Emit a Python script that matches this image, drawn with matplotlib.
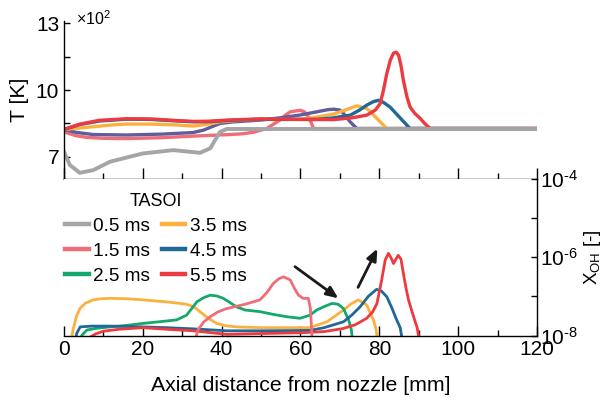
import matplotlib
matplotlib.use("Agg")
import matplotlib.pyplot as plt
import numpy as np
from matplotlib.lines import Line2D
from matplotlib.ticker import NullFormatter

plt.rcParams["font.family"] = ["Liberation Sans", "DejaVu Sans"]
plt.rcParams["mathtext.fontset"] = "custom"
plt.rcParams["mathtext.rm"] = "Liberation Sans"
plt.rcParams["mathtext.it"] = "Liberation Sans:italic"

# ---- colours ----
C_GRAY = "#a4a5a8"
C_PINK = "#f06d77"
C_GREEN = "#14a86c"
C_PURPLE = "#5f5d9b"
C_ORANGE = "#fbb03f"
C_BLUE = "#1f6898"
C_RED = "#ec3a40"

labels = ["0.5 ms", "1.5 ms", "2.5 ms", "3.5 ms", "4.5 ms", "5.5 ms"]

# ---- top panel: temperature (x 100 K) ----
gray_x = [0, 1.5, 4, 7.4, 11.7, 20, 27.7, 34.5, 37.1, 38.5, 39.6, 41.3, 120]
gray_T = [7.22, 6.63, 6.28, 6.4, 6.78, 7.15, 7.3, 7.18, 7.38, 7.8, 8.12, 8.25, 8.25]

pink_x = [0, 3, 5.8, 10, 15.9, 25, 32.8, 42, 45, 48, 51.4, 53, 54.8, 56, 57.4,
          59.9, 61, 62, 62.8, 63.3, 120]
pink_T = [8.12, 7.95, 7.87, 7.83, 7.82, 7.86, 7.93, 8.0, 8.03, 8.1, 8.27, 8.45,
          8.65, 8.85, 9.02, 9.09, 9.02, 8.8, 8.5, 8.27, 8.27]

purple_x = [0, 3, 7.4, 15.9, 25, 32.8, 35.4, 37.5, 39.6, 43, 46.4, 50, 55.7, 60,
            64.1, 67, 68.4, 70, 70.9, 72.6, 74.3, 120]
purple_T = [8.23, 8.1, 8.0, 7.98, 8.02, 8.09, 8.2, 8.35, 8.5, 8.57, 8.61, 8.65,
            8.77, 8.88, 9.02, 9.12, 9.14, 9.1, 8.95, 8.57, 8.27, 8.27]

orange_x = [0, 3, 7.4, 12, 15.9, 22, 28.6, 32.8, 36, 39.6, 46.4, 52, 59.9, 64,
            68.4, 71, 74.3, 76.8, 78, 79.4, 81.9, 120]
orange_T = [8.23, 8.28, 8.35, 8.43, 8.47, 8.47, 8.43, 8.38, 8.45, 8.57, 8.67,
            8.68, 8.68, 8.78, 8.92, 9.08, 9.29, 9.17, 8.98, 8.72, 8.27, 8.27]

blue_x = [0, 4, 9.1, 15.9, 22, 28.6, 32.8, 37, 41.3, 49.7, 56, 64.1, 68, 72.6,
          75, 76.8, 78.5, 79.8, 81, 82.7, 85, 87.8, 120]
blue_T = [8.23, 8.45, 8.61, 8.69, 8.68, 8.61, 8.57, 8.58, 8.63, 8.69, 8.68, 8.68,
          8.74, 8.87, 9.1, 9.32, 9.48, 9.54, 9.45, 9.24, 8.8, 8.27, 8.27]

red_x = [0, 4, 9, 15.9, 22, 28.6, 32.8, 37, 41.3, 49.7, 60, 68.4, 73, 76.8, 79,
         80.2, 81, 81.9, 82.8, 83.6, 84.3, 84.9, 85.5, 86.1, 87, 87.8, 89, 90.4,
         91.5, 92.9, 120]
red_T = [8.23, 8.47, 8.64, 8.71, 8.7, 8.63, 8.59, 8.6, 8.65, 8.7, 8.68, 8.67,
         8.75, 8.87, 9.1, 9.39, 9.95, 10.74, 11.35, 11.66, 11.7, 11.56, 11.1,
         10.44, 9.7, 9.24, 8.95, 8.72, 8.5, 8.27, 8.27]

# ---- bottom panel: OH mole fraction, log10 ----
pink_bx = [32.6, 34, 35.5, 37.1, 39, 41, 43, 46, 49.7, 51.5, 53.1, 54.5, 55.7,
           57.4, 58.5, 59.5, 60.7, 62, 62.5, 62.8, 63.1]
pink_b = [-8.4, -7.85, -7.65, -7.52, -7.4, -7.32, -7.27, -7.2, -7.09, -6.9,
          -6.67, -6.55, -6.5, -6.58, -6.8, -6.97, -7.05, -7.05, -7.3, -7.8, -8.4]

green_bx = [3.4, 4.5, 5.8, 8, 11.7, 16, 20.1, 25, 28.6, 31.1, 32.5, 33.7, 35.5,
            37.1, 38.8, 40.4, 42, 43.8, 46, 49.7, 53.1, 56.5, 59.9, 62.4, 64.1,
            65.8, 68, 69.5, 70.9, 72.2, 72.9, 73.5]
green_b = [-8.4, -8.0, -7.86, -7.82, -7.78, -7.74, -7.69, -7.64, -7.6, -7.48,
           -7.3, -7.14, -7.03, -6.97, -6.99, -7.05, -7.15, -7.27, -7.35, -7.39,
           -7.46, -7.52, -7.56, -7.48, -7.35, -7.27, -7.18, -7.2, -7.31, -7.6,
           -7.85, -8.4]

orange_bx = [1.2, 2.3, 3.2, 4.1, 5.5, 7.4, 9.5, 11.7, 16, 20.1, 26, 31.1, 33,
             34.5, 36.5, 38.7, 41, 43.8, 50, 56, 62.4, 66.7, 70.9, 73, 74.7,
             76.8, 78.5, 79.2, 79.8]
orange_b = [-8.5, -7.85, -7.5, -7.3, -7.17, -7.09, -7.06, -7.05, -7.06, -7.09,
            -7.14, -7.2, -7.27, -7.39, -7.55, -7.69, -7.75, -7.78, -7.8, -7.8,
            -7.8, -7.65, -7.35, -7.18, -7.09, -7.22, -7.6, -7.85, -8.4]

blue_bx = [2.6, 3.2, 4.1, 7, 11.7, 20.1, 26, 32.8, 41.3, 50, 62.4, 66, 70.9, 73,
           75.1, 77.2, 79.3, 80.5, 81.9, 83.2, 84.4, 85.3, 86.3]
blue_b = [-8.4, -7.95, -7.78, -7.76, -7.76, -7.78, -7.8, -7.83, -7.88, -7.88,
          -7.87, -7.8, -7.65, -7.48, -7.27, -7.0, -6.82, -6.86, -7.01, -7.3,
          -7.6, -7.8, -8.4]

red_bx = [5.0, 6.5, 8, 10, 14, 20.1, 26, 32.8, 41.3, 50, 60, 66, 70.9, 74, 76.8,
          78.3, 79.4, 80.6, 81.5, 82.3, 83, 83.6, 84.2, 84.8, 85.5, 86.1, 86.8,
          87.4, 88.7, 89.6, 90.6]
red_b = [-8.4, -8.05, -7.96, -7.89, -7.84, -7.8, -7.84, -7.88, -7.97, -7.95,
         -7.93, -7.9, -7.82, -7.72, -7.56, -7.4, -7.18, -6.58, -6.07, -5.9,
         -6.02, -6.16, -6.05, -5.95, -6.05, -6.41, -6.8, -7.09, -7.52, -7.8, -8.4]

# arrows (x, log10 X_OH): start -> end
arrow1 = [(58.6, -6.24), (69.6, -7.05)]
arrow2 = [(74.6, -6.77), (79.5, -5.78)]

TICK_FS = 15
LABEL_FS = 15.3

fig = plt.figure(figsize=(6.06, 4.05), dpi=100)
ax1 = fig.add_axes([0.1056, 0.559, 0.7805, 0.389])
ax2 = fig.add_axes([0.1056, 0.1716, 0.7805, 0.3864])

# top panel
LW_T = 2.4
ax1.plot(pink_x, pink_T, color=C_PINK, lw=LW_T)
ax1.plot(purple_x, purple_T, color=C_PURPLE, lw=LW_T)
ax1.plot(orange_x, orange_T, color=C_ORANGE, lw=LW_T)
ax1.plot(blue_x, blue_T, color=C_BLUE, lw=LW_T)
ax1.plot(red_x, red_T, color=C_RED, lw=LW_T)
h_gray, = ax1.plot(gray_x, gray_T, color=C_GRAY, lw=2.8)

ax1.set_xlim(0, 120)
ax1.set_ylim(6.02, 13.1)
ax1.set_yticks([7, 10, 13])
ax1.set_yticks([8.5, 11.5], minor=True)
ax1.set_xticks(np.arange(0, 121, 20))
ax1.set_xticks(np.arange(10, 120, 20), minor=True)
ax1.tick_params(axis="x", which="both", labelbottom=False)
ax1.tick_params(axis="both", which="both", direction="in", width=1)
ax1.tick_params(axis="x", which="major", length=8)
ax1.tick_params(axis="x", which="minor", length=4.5)
ax1.tick_params(axis="y", which="both", length=4, labelsize=TICK_FS)
for s in ("top", "right"):
    ax1.spines[s].set_visible(False)
for s in ("left", "bottom"):
    ax1.spines[s].set_linewidth(1.0)
ax1.set_ylabel("T [K]", fontsize=LABEL_FS, labelpad=5)
fig.text(0.126, 0.953, "×10$^{2}$", fontsize=11.5, va="center", ha="left")

# bottom panel
LW_B = 2.0
h_orange, = ax2.plot(orange_bx, 10.0 ** np.array(orange_b), color=C_ORANGE, lw=LW_B)
h_green, = ax2.plot(green_bx, 10.0 ** np.array(green_b), color=C_GREEN, lw=LW_B)
h_blue, = ax2.plot(blue_bx, 10.0 ** np.array(blue_b), color=C_BLUE, lw=LW_B)
h_red, = ax2.plot(red_bx, 10.0 ** np.array(red_b), color=C_RED, lw=LW_B)
h_pink, = ax2.plot(pink_bx, 10.0 ** np.array(pink_b), color=C_PINK, lw=LW_B)

ax2.set_yscale("log")
ax2.set_xlim(0, 120)
ax2.set_ylim(1e-8, 1e-4)
ax2.set_xticks(np.arange(0, 121, 20))
ax2.set_xticks(np.arange(10, 120, 20), minor=True)
ax2.yaxis.tick_right()
ax2.yaxis.set_label_position("right")
ax2.set_yticks([1e-8, 1e-7, 1e-6, 1e-5, 1e-4])
ax2.set_yticklabels([r"10$^{\text{-}8}$", "", r"10$^{\text{-}6}$", "",
                     r"10$^{\text{-}4}$"])
ax2.yaxis.set_minor_formatter(NullFormatter())
ax2.tick_params(axis="both", which="both", direction="in", width=1, labelsize=TICK_FS)
ax2.tick_params(axis="x", which="major", length=7)
ax2.tick_params(axis="x", which="minor", length=4)
ax2.tick_params(axis="y", which="major", length=4.5, pad=2)
ax2.tick_params(axis="y", which="minor", length=2.5, width=0.8)
for s in ("top", "left"):
    ax2.spines[s].set_visible(False)
for s in ("right", "bottom"):
    ax2.spines[s].set_linewidth(1.0)
ax2.set_xlabel("Axial distance from nozzle [mm]", fontsize=LABEL_FS, labelpad=12)
ax2.set_ylabel(r"X$_{\mathrm{OH}}$ [-]", fontsize=13.5, labelpad=3)

for (x0, y0), (x1, y1) in (arrow1, arrow2):
    ax2.annotate("", xy=(x1, 10.0 ** y1), xytext=(x0, 10.0 ** y0),
                 arrowprops=dict(arrowstyle="-|>,head_length=0.7,head_width=0.3",
                                 color="#1a1a1a", lw=2.0, shrinkA=0, shrinkB=0))

handles = [h_gray, h_pink, h_green, h_orange, h_blue, h_red]
proxies = [Line2D([0], [0], color=h.get_color(), lw=3.2) for h in handles]
leg = ax2.legend(proxies, labels, ncol=2, title="TASOI", loc="upper left",
                 bbox_to_anchor=(0.107, 0.524), bbox_transform=fig.transFigure,
                 frameon=False, fontsize=13.7, title_fontsize=13, borderpad=0,
                 handlelength=1.25, handletextpad=0.25, columnspacing=0.6,
                 labelspacing=0.4, borderaxespad=0)

fig.savefig("out.png", dpi=100)
